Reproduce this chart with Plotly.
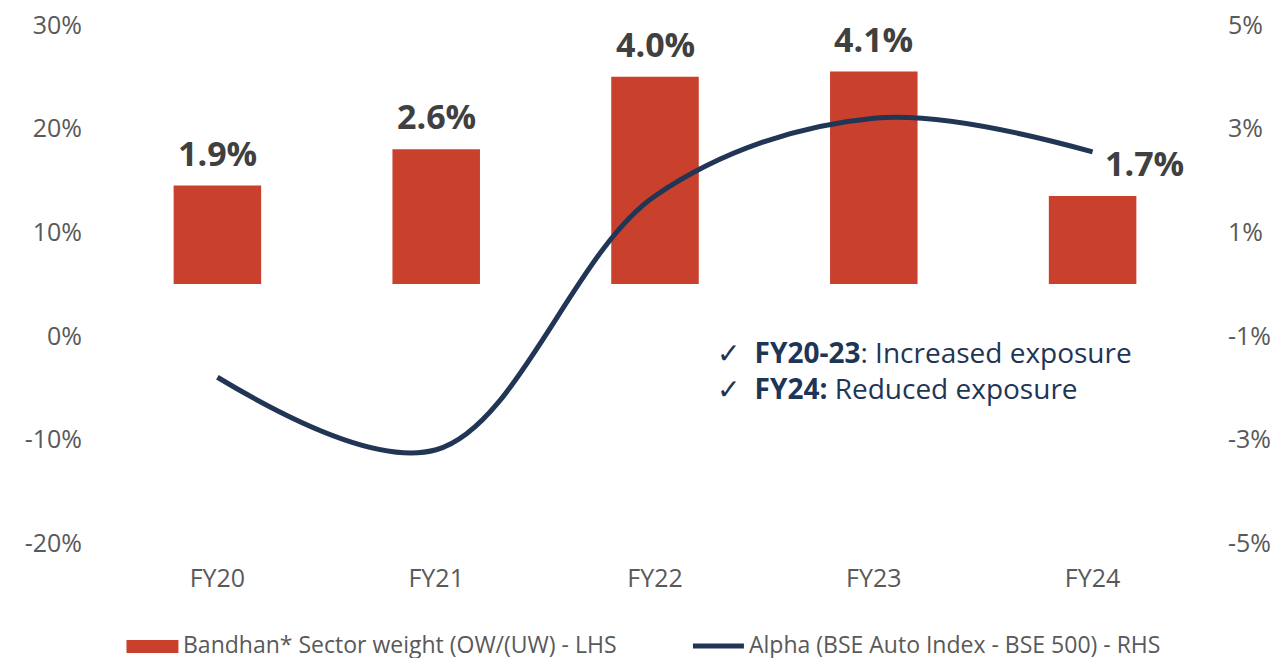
import plotly.graph_objects as go

categories = ["FY20", "FY21", "FY22", "FY23", "FY24"]
sector_weight = [1.9, 2.6, 4.0, 4.1, 1.7]          # bars (labels)
alpha = [-1.8, -3.2, 1.7, 3.2, 2.55]                # line
left_ticks = [-20, -10, 0, 10, 20, 30]
left_labels = ["-20%", "-10%", "0%", "10%", "20%", "30%"]
right_ticks = [-5, -3, -1, 1, 3, 5]
right_labels = ["-5%", "-3%", "-1%", "1%", "3%", "5%"]

BAR_COLOR = "#C9402D"
LINE_COLOR = "#213555"
TICK_COLOR = "#595959"

# page body has an 8px margin; work in screen pixels and compensate
OFF = 8
W, H = 1281, 658
ML, MR, MT, MB = 107.5 - OFF, 78.5 + OFF, 25 - OFF, 115 + OFF
PW = W - ML - MR
PH = H - MT - MB

def px_x(x):
    return (x - OFF - ML) / PW

def px_y(y):
    return (H - MB - (y - OFF)) / PH

fig = go.Figure()
fig.add_trace(go.Bar(
    x=categories, y=sector_weight, yaxis="y2",
    marker=dict(color=BAR_COLOR, line=dict(width=0)),
    width=0.4, name="Bandhan* Sector weight (OW/(UW) - LHS", showlegend=False,
))
fig.add_trace(go.Scatter(
    x=categories, y=alpha, yaxis="y2", mode="lines",
    line=dict(color=LINE_COLOR, width=5, shape="spline", smoothing=1),
    name="Alpha (BSE Auto Index - BSE 500) - RHS", showlegend=False,
))
# invisible trace on left axis so it renders
fig.add_trace(go.Scatter(x=categories, y=[None]*5, yaxis="y", showlegend=False, hoverinfo="skip"))

annotations = []
for i, (c, v) in enumerate(zip(categories, sector_weight)):
    xs = 52 if i == len(categories) - 1 else 0
    annotations.append(dict(
        x=c, y=v, xref="x", yref="y2", text=f"<b>{v:.1f}%</b>",
        showarrow=False, yanchor="bottom", xanchor="center", xshift=xs, yshift=8,
        font=dict(family="Open Sans", size=34, color="#404040"),
    ))

annotations.append(dict(
    x=px_x(715), y=px_y(370), xref="paper", yref="paper", xanchor="left", yanchor="middle",
    align="left", showarrow=False,
    text="✓  <b>FY20-23</b>: Increased exposure<br>✓  <b>FY24:</b> Reduced exposure",
    font=dict(family="Open Sans", size=28, color="#1F3556"),
))

legend_font = dict(family="Open Sans", size=23, color=TICK_COLOR)
annotations.append(dict(
    x=px_x(181), y=px_y(644), xref="paper", yref="paper", xanchor="left", yanchor="middle",
    showarrow=False, text="Bandhan* Sector weight (OW/(UW) - LHS", font=legend_font,
))
annotations.append(dict(
    x=px_x(747), y=px_y(644), xref="paper", yref="paper", xanchor="left", yanchor="middle",
    showarrow=False, text="Alpha (BSE Auto Index - BSE 500) - RHS", font=legend_font,
))

shapes = [
    dict(type="rect", xref="paper", yref="paper", x0=px_x(126), x1=px_x(178),
         y0=px_y(653), y1=px_y(640), fillcolor=BAR_COLOR, line=dict(width=0)),
    dict(type="line", xref="paper", yref="paper", x0=px_x(693), x1=px_x(744),
         y0=px_y(646), y1=px_y(646), line=dict(color=LINE_COLOR, width=5)),
]

tick_font = dict(family="Open Sans", size=25, color=TICK_COLOR)
fig.update_layout(
    width=W, height=H,
    margin=dict(l=ML, r=MR, t=MT, b=MB, autoexpand=False),
    paper_bgcolor="white", plot_bgcolor="white",
    showlegend=False,
    xaxis=dict(type="category", range=[-0.5, 4.5], showgrid=False, showline=False,
               zeroline=False, ticks="", tickfont=tick_font, ticklabelstandoff=18,
               automargin=False, ticklabeloverflow="allow"),
    yaxis=dict(range=[-20, 30], tickvals=left_ticks, ticktext=left_labels, showgrid=False,
               zeroline=False, showline=False, tickfont=tick_font, ticklabelstandoff=25,
               automargin=False, ticklabeloverflow="allow"),
    yaxis2=dict(range=[-5, 5], tickvals=right_ticks, ticktext=right_labels, overlaying="y",
                side="right", showgrid=False, zeroline=False, showline=False,
                tickfont=tick_font, ticklabelstandoff=25, automargin=False,
                ticklabeloverflow="allow"),
    annotations=annotations, shapes=shapes,
    bargap=0.6,
)

fig.write_html("out.html")
